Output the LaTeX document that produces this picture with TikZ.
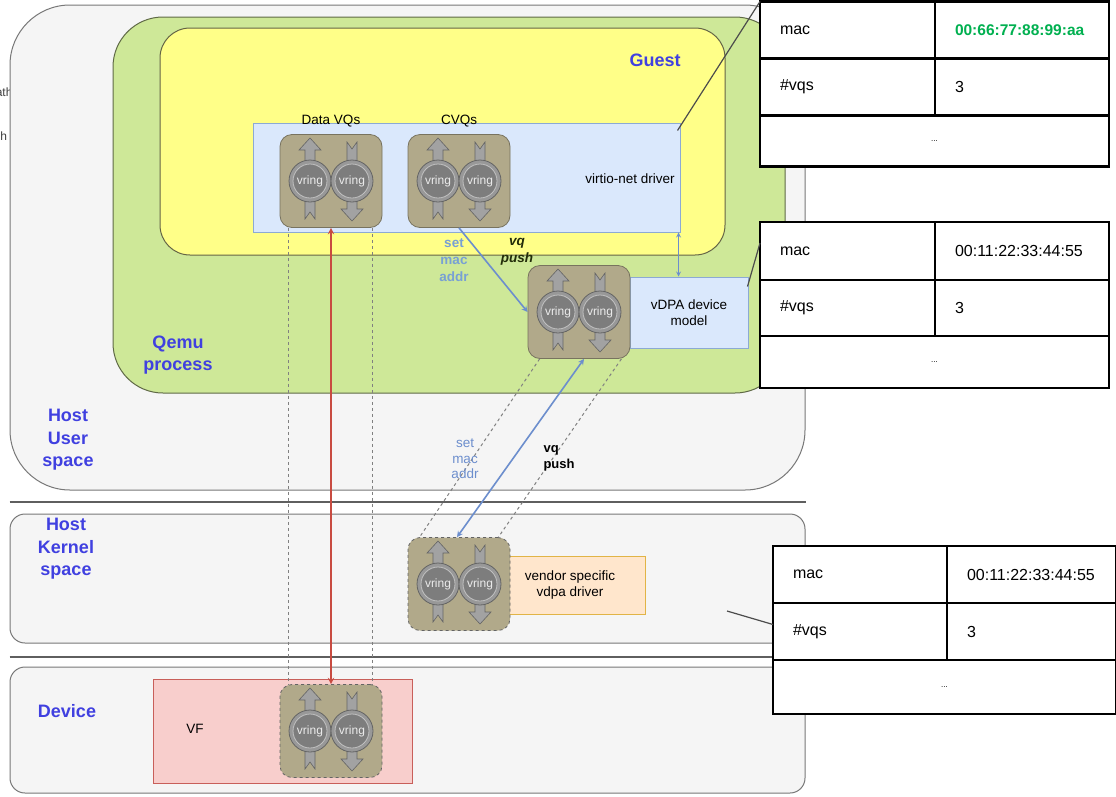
\documentclass[tikz,border=0pt]{standalone}
\usepackage{fontspec}
\setmainfont{Liberation Sans}
\usetikzlibrary{shapes,arrows,positioning,calc}
\definecolor{panelgray}{RGB}{245,245,245}
\definecolor{panelline}{RGB}{120,120,120}
\definecolor{sepgray}{RGB}{95,95,95}
\definecolor{qemugreen}{RGB}{206,232,152}
\definecolor{qemuline}{RGB}{95,105,70}
\definecolor{guestyellow}{RGB}{255,255,136}
\definecolor{guestline}{RGB}{100,100,70}
\definecolor{drvblue}{RGB}{218,232,252}
\definecolor{drvline}{RGB}{140,170,212}
\definecolor{vqbrown}{RGB}{177,169,138}
\definecolor{vqline}{RGB}{120,115,95}
\definecolor{ringgray}{RGB}{152,152,152}
\definecolor{ringinner}{RGB}{125,125,125}
\definecolor{ringdark}{RGB}{100,100,100}
\definecolor{vendororange}{RGB}{255,230,204}
\definecolor{vendorline}{RGB}{225,180,70}
\definecolor{vfpink}{RGB}{248,206,204}
\definecolor{vfline}{RGB}{200,95,90}
\definecolor{linkred}{RGB}{200,75,65}
\definecolor{linkblue}{RGB}{108,142,205}
\definecolor{labelblue}{RGB}{64,64,224}
\definecolor{setblue}{RGB}{120,160,212}
\definecolor{pushdark}{RGB}{35,45,10}
\definecolor{macgreen}{RGB}{0,176,80}

\tikzset{
  region/.style={draw=panelline, fill=panelgray, line width=1pt, rounded corners=15pt},
  bluebox/.style={draw=drvline, fill=drvblue, line width=1pt},
  vqblock/.style={draw=vqline, fill=vqbrown, line width=0.8pt, rounded corners=12pt,
    minimum width=102pt, minimum height=93pt},
  layertitle/.style={text=labelblue, align=center, font=\fontsize{18}{22.5}\selectfont\bfseries},
  trace/.style={draw=gray, line width=1pt, dash pattern=on 3pt off 3pt},
  link/.style={draw=linkblue, line width=1.6pt},
  leader/.style={draw=black!70, line width=1.2pt},
  tabcell/.style={draw=black, fill=white, line width=2.5pt, anchor=north west, outer sep=0pt,
    inner xsep=20pt, text width=#1, align=left, font=\fontsize{16}{19}\selectfont}
}

% one pair of vrings in a block
\newcommand{\vringpair}[3]{%
  \node[vqblock, #3] (#1) at (#2) {};
  \begin{scope}[shift={(#1.center)}]
    \filldraw[fill=ringgray!90, draw=ringdark, line width=0.6pt]
      (-26,-14) -- (-26,-31) -- (-32,-31) -- (-21,-43) -- (-10,-31) -- (-16,-31) -- (-16,-14) -- cycle;
    \filldraw[fill=ringgray!90, draw=ringdark, line width=0.6pt]
      (-26,14) -- (-26,38) -- (-21,31) -- (-16,38) -- (-16,14) -- cycle;
    \filldraw[fill=ringgray!90, draw=ringdark, line width=0.6pt]
      (16,-14) -- (16,-39) -- (21,-32) -- (26,-39) -- (26,-14) -- cycle;
    \filldraw[fill=ringgray!90, draw=ringdark, line width=0.6pt]
      (16,14) -- (16,28) -- (10,28) -- (21,40) -- (32,28) -- (26,28) -- (26,14) -- cycle;
    \foreach \cx in {-21,21} {
      \filldraw[fill=ringgray, draw=ringdark, line width=0.8pt] (\cx,0) circle (21pt);
      \filldraw[fill=ringinner, draw=ringgray!60, line width=0.8pt] (\cx,0) circle (17pt);
      \node[text=white!92!black, font=\fontsize{12}{13}\selectfont] at (\cx,0) {vring};
    }
  \end{scope}}

\begin{document}
\begin{tikzpicture}[x=1pt, y=-1pt, >=stealth, font=\fontsize{13.5}{16}\selectfont]
    \useasboundingbox (0,0) rectangle (1116,796);
    \fill[white] (0,0) rectangle (1116,796);

    % cut-off words at the left edge
    \begin{scope}
      \clip (0,0) rectangle (14,796);
      \node[anchor=east, text=black!75, font=\fontsize{12}{14}\selectfont] (cuta) at (16,92) {ath};
      \node[anchor=east, text=black!75, font=\fontsize{12}{14}\selectfont] (cutb) at (10.5,136) {h};
    \end{scope}

    % layers
    \node[region, rounded corners=60pt, minimum width=795pt, minimum height=485pt] (hostuser) at (407.5,247.5) {};
    \node[region, minimum width=795pt, minimum height=129pt] (hostkernel) at (407.5,578.5) {};
    \node[region, minimum width=795pt, minimum height=126pt] (device) at (407.5,730) {};
    \draw[sepgray, line width=2pt] ([yshift=-11pt]hostuser.south west) -- ([yshift=-11pt]hostuser.south east);
    \draw[sepgray, line width=2pt] ([yshift=-13pt]hostkernel.south west) -- ([yshift=-13pt]hostkernel.south east);

    \node[draw=qemuline, fill=qemugreen, line width=1pt, rounded corners=50pt, minimum width=672pt, minimum height=376pt] (qemu) at (449,205) {};
    \node[draw=guestline, fill=guestyellow, line width=1pt, rounded corners=30pt, minimum width=565pt, minimum height=227pt] (guest) at (442.5,141.5) {};

    \node[layertitle] (hostuserlbl) at (68,440) {Host\\User\\space};
    \node[layertitle] (hostkernellbl) at (66,549) {Host\\Kernel\\space};
    \node[layertitle] (devicelbl) at (67,711) {Device};
    \node[layertitle] (qemulbl) at (178,355) {Qemu\\process};
    \node[layertitle] (guestlbl) at (655,60) {Guest};

    % guest driver
    \node[bluebox, minimum width=427pt, minimum height=109pt] (virtio) at (466.5,177.5) {};
    \node (virtiolbl) at (630,179) {virtio-net driver};
    \vringpair{dvq}{331,181}{}
    \vringpair{cvq}{459,181}{}
    \node[above=4pt of dvq] (dvqlbl) {Data VQs};
    \node[above=4pt of cvq] (cvqlbl) {CVQs};

    % qemu device model
    \node[bluebox, minimum width=118pt, minimum height=71pt, align=center] (model) at (689,312.5) {vDPA device\\model};
    \vringpair{vdq}{579,312}{}

    % kernel driver
    \node[draw=vendorline, fill=vendororange, line width=1pt, minimum width=140pt, minimum height=58pt] (vendor) at (575,585) {};
    \node[align=center] (vendorlbl) at (570,585) {vendor specific\\vdpa driver};
    \vringpair{vnq}{459,584}{dashed, draw=ringdark}

    % device
    \node[draw=vfline, fill=vfpink, line width=1pt, minimum width=259pt, minimum height=104pt] (vf) at (282.5,731) {};
    \node (vflbl) at (195,729) {VF};
    \vringpair{vfq}{331,731}{dashed, draw=ringdark}

    % connectors
    \draw[trace] ([xshift=9pt]dvq.south west) -- ([xshift=9pt]vfq.north west);
    \draw[trace] ([xshift=-10pt]dvq.south east) -- ([xshift=-10pt]vfq.north east);
    \draw[trace] ([xshift=12pt]vdq.south west) -- ([xshift=12pt]vnq.north west);
    \draw[trace] ([xshift=-9pt]vdq.south east) -- ([xshift=-12pt]vnq.north east);
    \draw[<->, draw=linkred, line width=1.8pt] (dvq.south) -- (vfq.north);
    \draw[->, link] (cvq.south) -- (vdq.west);
    \draw[<->, link] ([xshift=5pt]vdq.south) -- ([xshift=-2pt]vnq.north);
    \coordinate (drvport) at ([xshift=-2pt]virtio.south east);
    \draw[<->, link, line width=1.2pt] (drvport) -- (drvport |- model.north);

    \node[text=setblue, align=center, font=\fontsize{13.5}{17}\selectfont\bfseries] (setmac1) at (454,260) {set\\mac\\addr};
    \node[text=pushdark, align=center, font=\fontsize{13.5}{17}\selectfont\bfseries\itshape] (vqpush1) at (517,251.5) {vq\\push};
    \node[text=linkblue, align=center, font=\fontsize{13.5}{15.5}\selectfont] (setmac2) at (465,459) {set\\mac\\addr};
    \node[anchor=west, align=left, font=\fontsize{13}{16}\selectfont\bfseries] (vqpush2) at (540,458) {vq\\push};

    % tables
    \node[tabcell=135pt, minimum height=57pt] (t1mac) at (760,1.5) {mac};
    \node[tabcell=134pt, minimum height=57pt, text=macgreen, font=\fontsize{15.5}{18}\selectfont\bfseries] (t1macv) at (t1mac.north east) {00:66:77:88:99:aa};
    \node[tabcell=135pt, minimum height=57pt] (t1vqs) at (t1mac.south west) {\#vqs};
    \node[tabcell=134pt, minimum height=57pt] (t1vqsv) at (t1vqs.north east) {3};
    \node[tabcell=309pt, minimum height=51pt, align=center, font=\fontsize{8}{10}\selectfont] (t1dots) at (t1vqs.south west) {...};

    \node[tabcell=135pt, minimum height=58pt] (t2mac) at (760,222) {mac};
    \node[tabcell=134pt, minimum height=58pt] (t2macv) at (t2mac.north east) {00:11:22:33:44:55};
    \node[tabcell=135pt, minimum height=56pt] (t2vqs) at (t2mac.south west) {\#vqs};
    \node[tabcell=134pt, minimum height=56pt] (t2vqsv) at (t2vqs.north east) {3};
    \node[tabcell=309pt, minimum height=52pt, align=center, font=\fontsize{8}{10}\selectfont] (t2dots) at (t2vqs.south west) {...};

    \node[tabcell=134pt, minimum height=57pt] (t3mac) at (773,546) {mac};
    \node[tabcell=129pt, minimum height=57pt] (t3macv) at (t3mac.north east) {00:11:22:33:44:55};
    \node[tabcell=134pt, minimum height=57pt] (t3vqs) at (t3mac.south west) {\#vqs};
    \node[tabcell=129pt, minimum height=57pt] (t3vqsv) at (t3vqs.north east) {3};
    \node[tabcell=303pt, minimum height=54pt, align=center, font=\fontsize{8}{10}\selectfont] (t3dots) at (t3vqs.south west) {...};

    \draw[leader] ([shift={(-3pt,-8pt)}]virtio.north east) -- (t1mac.north west);
    \draw[leader] ([shift={(-1pt,-10pt)}]model.north east) -- ([yshift=8pt]t2mac.west);
    \coordinate (vendortick) at (727,611);
    \draw[leader] (vendortick) -- ([yshift=7pt]t3vqs.west);
\end{tikzpicture}
\end{document}
